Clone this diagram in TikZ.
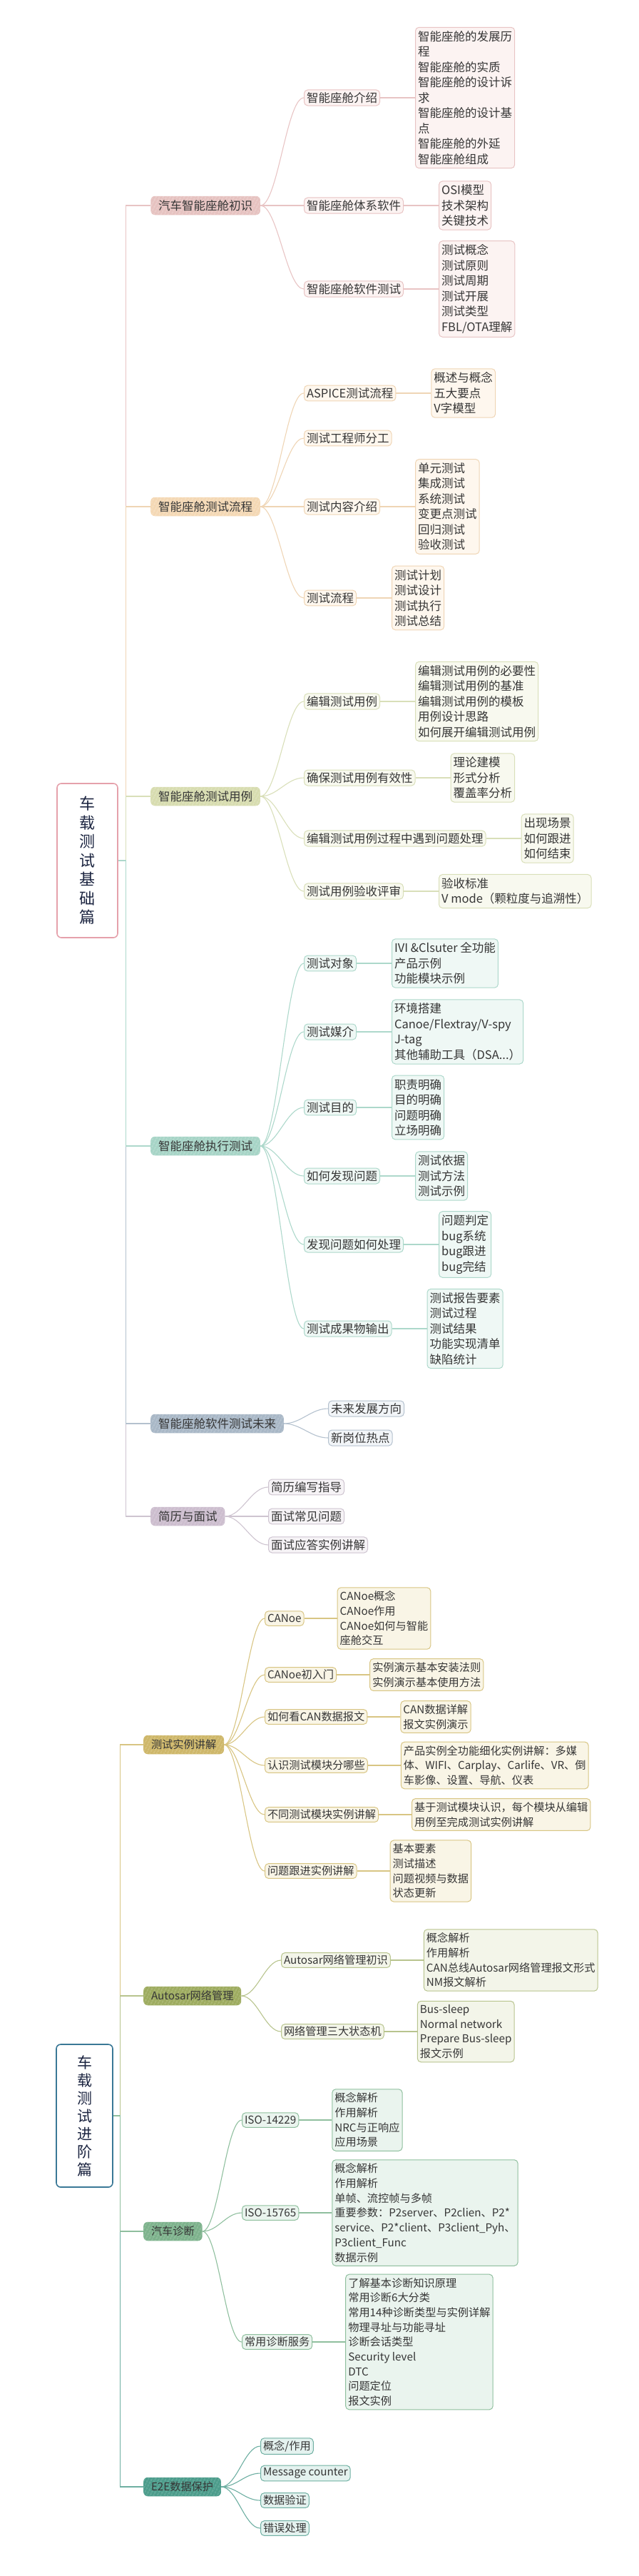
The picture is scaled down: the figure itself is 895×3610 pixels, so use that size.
\documentclass[tikz,border=0pt]{standalone}
\usepackage{fontspec}
\setmainfont{Noto Sans CJK SC}
\usetikzlibrary{positioning,patterns.meta}
\definecolor{ink}{HTML}{363636}
\definecolor{navy}{HTML}{1C2541}
\definecolor{rtA}{HTML}{E5A1AB}
\definecolor{rtB}{HTML}{3A7896}
\definecolor{pkD}{HTML}{E6C2C0}\definecolor{pkH}{HTML}{F3E0DF}\definecolor{pkL}{HTML}{FCF3F2}\definecolor{pkE}{HTML}{E8C4C4}
\definecolor{tnD}{HTML}{F4D8B4}\definecolor{tnH}{HTML}{FAEBD7}\definecolor{tnL}{HTML}{FEF7EE}\definecolor{tnE}{HTML}{EFD5B5}
\definecolor{sgD}{HTML}{D7DCAF}\definecolor{sgH}{HTML}{E9ECD3}\definecolor{sgL}{HTML}{F8F9EF}\definecolor{sgE}{HTML}{D9DFB9}
\definecolor{tlD}{HTML}{A6D4C6}\definecolor{tlH}{HTML}{CDE7DF}\definecolor{tlL}{HTML}{EFF8F5}\definecolor{tlE}{HTML}{ADD8CB}
\definecolor{slD}{HTML}{A8B7C6}\definecolor{slH}{HTML}{CBD5DF}\definecolor{slL}{HTML}{F2F5F8}\definecolor{slE}{HTML}{B4C1CE}
\definecolor{mvD}{HTML}{CCBDCE}\definecolor{mvH}{HTML}{E2D9E3}\definecolor{mvL}{HTML}{F6F3F6}\definecolor{mvE}{HTML}{CEC4D0}
\definecolor{gdD}{HTML}{CEB76A}\definecolor{gdH}{HTML}{E3D49F}\definecolor{gdL}{HTML}{F9F5E6}\definecolor{gdE}{HTML}{D8C583}
\definecolor{olD}{HTML}{9DAB5F}\definecolor{olH}{HTML}{C2CC93}\definecolor{olL}{HTML}{F3F5E9}\definecolor{olE}{HTML}{B8C48E}
\definecolor{gnD}{HTML}{7DB28C}\definecolor{gnH}{HTML}{A9CDB3}\definecolor{gnL}{HTML}{EAF4EE}\definecolor{gnE}{HTML}{8FBF9E}
\definecolor{dtD}{HTML}{4C9C8B}\definecolor{dtH}{HTML}{7FBDB0}\definecolor{dtL}{HTML}{E4F2EF}\definecolor{dtE}{HTML}{6EAFA2}

\begin{document}
\begin{tikzpicture}[
  x=1pt,y=-1pt,
  node distance=49pt,
  every node/.style={text=ink},
  root/.style={draw=#1,line width=1.6pt,fill=white,rounded corners=6pt,align=center,text=navy},
  br/.style={rounded corners=6pt,preaction={fill=#1D},pattern={Lines[angle=62,distance=4pt,line width=.7pt]},pattern color=#1H,anchor=west,inner xsep=1.08em,minimum height=2.65em},
  sub/.style={draw=#1E,fill=#1L,line width=1pt,rounded corners=5pt,anchor=west,inner xsep=.35em,minimum height=2.05em},
  leaf/.style={draw=#1E,fill=#1L,line width=1pt,rounded corners=5pt,align=left,inner xsep=.36em,inner ysep=.5em},
  lk/.style={line width=1.1pt}
]
\useasboundingbox (0,0) rectangle (895,3610);

\begin{scope}[font=\fontsize{16.5pt}{21.5pt}\selectfont]
\node[root=rtA,font=\fontsize{22pt}{26.5pt}\selectfont,minimum width=85pt,minimum height=216pt] (r1) at (122.5,1206) {车\\载\\测\\试\\基\\础\\篇};

\node[br=pk] (b1) at (211,288) {汽车智能座舱初识};
\node[sub=pk] (c11) at (426,137) {智能座舱介绍};
\node[sub=pk] (c12) at (426,288) {智能座舱体系软件};
\node[sub=pk] (c13) at (426,405) {智能座舱软件测试};
\node[leaf=pk,right=of c11] (l11) {智能座舱的发展历\\程\\智能座舱的实质\\智能座舱的设计诉\\求\\智能座舱的设计基\\点\\智能座舱的外延\\智能座舱组成};
\node[leaf=pk,right=of c12] (l12) {OSI模型\\技术架构\\关键技术};
\node[leaf=pk,right=of c13] (l13) {测试概念\\测试原则\\测试周期\\测试开展\\测试类型\\FBL/OTA理解};

\node[br=tn] (b2) at (211,710) {智能座舱测试流程};
\node[sub=tn] (c21) at (426,551) {ASPICE测试流程};
\node[sub=tn] (c22) at (426,614) {测试工程师分工};
\node[sub=tn] (c23) at (426,710) {测试内容介绍};
\node[sub=tn] (c24) at (426,838) {测试流程};
\node[leaf=tn,right=of c21] (l21) {概述与概念\\五大要点\\V字模型};
\node[leaf=tn,right=of c23] (l23) {单元测试\\集成测试\\系统测试\\变更点测试\\回归测试\\验收测试};
\node[leaf=tn,right=of c24] (l24) {测试计划\\测试设计\\测试执行\\测试总结};

\node[br=sg] (b3) at (211,1116) {智能座舱测试用例};
\node[sub=sg] (c31) at (426,983) {编辑测试用例};
\node[sub=sg] (c32) at (426,1090) {确保测试用例有效性};
\node[sub=sg] (c33) at (426,1175) {编辑测试用例过程中遇到问题处理};
\node[sub=sg] (c34) at (426,1249) {测试用例验收评审};
\node[leaf=sg,right=of c31] (l31) {编辑测试用例的必要性\\编辑测试用例的基准\\编辑测试用例的模板\\用例设计思路\\如何展开编辑测试用例};
\node[leaf=sg,right=of c32] (l32) {理论建模\\形式分析\\覆盖率分析};
\node[leaf=sg,right=of c33] (l33) {出现场景\\如何跟进\\如何结束};
\node[leaf=sg,right=of c34] (l34) {验收标准\\V mode（颗粒度与追溯性）};

\node[br=tl] (b4) at (211,1606) {智能座舱执行测试};
\node[sub=tl] (c41) at (426,1350) {测试对象};
\node[sub=tl] (c42) at (426,1446) {测试媒介};
\node[sub=tl] (c43) at (426,1552) {测试目的};
\node[sub=tl] (c44) at (426,1648) {如何发现问题};
\node[sub=tl] (c45) at (426,1744) {发现问题如何处理};
\node[sub=tl] (c46) at (426,1862) {测试成果物输出};
\node[leaf=tl,right=of c41] (l41) {IVI \&Clsuter 全功能\\产品示例\\功能模块示例};
\node[leaf=tl,right=of c42] (l42) {环境搭建\\Canoe/Flextray/V-spy\\J-tag\\其他辅助工具（DSA...）};
\node[leaf=tl,right=of c43] (l43) {职责明确\\目的明确\\问题明确\\立场明确};
\node[leaf=tl,right=of c44] (l44) {测试依据\\测试方法\\测试示例};
\node[leaf=tl,right=of c45] (l45) {问题判定\\bug系统\\bug跟进\\bug完结};
\node[leaf=tl,right=of c46] (l46) {测试报告要素\\测试过程\\测试结果\\功能实现清单\\缺陷统计};

\node[br=sl] (b5) at (211,1995) {智能座舱软件测试未来};
\node[sub=sl] (c51) at (460,1974) {未来发展方向};
\node[sub=sl] (c52) at (460,2015) {新岗位热点};

\node[br=mv] (b6) at (211,2125) {简历与面试};
\node[sub=mv] (c61) at (376,2084) {简历编写指导};
\node[sub=mv] (c62) at (376,2125) {面试常见问题};
\node[sub=mv] (c63) at (376,2165) {面试应答实例讲解};

\foreach \b/\k in {b1/pkE,b2/tnE,b3/sgE,b6/mvE,b5/slE,b4/tlE}
  \draw[lk,draw=\k] (r1.east) -- ++(11,0) |- (\b.west);
\foreach \b/\c/\k in {b1/c11/pkE,b1/c12/pkE,b1/c13/pkE,b2/c21/tnE,b2/c22/tnE,b2/c23/tnE,b2/c24/tnE,
    b3/c31/sgE,b3/c32/sgE,b3/c33/sgE,b3/c34/sgE,b4/c41/tlE,b4/c42/tlE,b4/c43/tlE,b4/c44/tlE,b4/c45/tlE,b4/c46/tlE,
    b5/c51/slE,b5/c52/slE,b6/c61/mvE,b6/c62/mvE,b6/c63/mvE}
  \draw[lk,draw=\k] (\b.east) .. controls +(24,0) and +(-24,0) .. (\c.west);
\foreach \c/\l/\k in {c11/l11/pkE,c12/l12/pkE,c13/l13/pkE,c21/l21/tnE,c23/l23/tnE,c24/l24/tnE,
    c31/l31/sgE,c32/l32/sgE,c33/l33/sgE,c34/l34/sgE,c41/l41/tlE,c42/l42/tlE,c43/l43/tlE,c44/l44/tlE,c45/l45/tlE,c46/l46/tlE}
  \draw[lk,draw=\k] (\c.east) -- (\l.west |- \c.east);
\end{scope}

\begin{scope}[font=\fontsize{15.2pt}{20.7pt}\selectfont,node distance=46pt]
\node[root=rtB,font=\fontsize{21pt}{25pt}\selectfont,minimum width=79pt,minimum height=200pt] (r2) at (118.5,2965) {车\\载\\测\\试\\进\\阶\\篇};

\node[br=gd] (bA) at (201,2445) {测试实例讲解};
\node[sub=gd] (cA1) at (371,2268) {CANoe};
\node[sub=gd] (cA2) at (371,2347) {CANoe初入门};
\node[sub=gd] (cA3) at (371,2406) {如何看CAN数据报文};
\node[sub=gd] (cA4) at (371,2474) {认识测试模块分哪些};
\node[sub=gd] (cA5) at (371,2543) {不同测试模块实例讲解};
\node[sub=gd] (cA6) at (371,2622) {问题跟进实例讲解};
\node[leaf=gd,right=of cA1] (lA1) {CANoe概念\\CANoe作用\\CANoe如何与智能\\座舱交互};
\node[leaf=gd,right=of cA2] (lA2) {实例演示基本安装法则\\实例演示基本使用方法};
\node[leaf=gd,right=of cA3] (lA3) {CAN数据详解\\报文实例演示};
\node[leaf=gd,right=of cA4] (lA4) {产品实例全功能细化实例讲解：多媒\\体、WIFI、Carplay、Carlife、VR、倒\\车影像、设置、导航、仪表};
\node[leaf=gd,right=of cA5] (lA5) {基于测试模块认识，每个模块从编辑\\用例至完成测试实例讲解};
\node[leaf=gd,right=of cA6] (lA6) {基本要素\\测试描述\\问题视频与数据\\状态更新};

\node[br=ol] (bB) at (201,2797) {Autosar网络管理};
\node[sub=ol] (cB1) at (394,2747) {Autosar网络管理初识};
\node[sub=ol] (cB2) at (394,2847) {网络管理三大状态机};
\node[leaf=ol,right=of cB1] (lB1) {概念解析\\作用解析\\CAN总线Autosar网络管理报文形式\\NM报文解析};
\node[leaf=ol,right=of cB2] (lB2) {Bus-sleep\\Normal network\\Prepare Bus-sleep\\报文示例};

\node[br=gn] (bC) at (201,3127) {汽车诊断};
\node[sub=gn] (cC1) at (339,2971) {ISO-14229};
\node[sub=gn] (cC2) at (339,3101) {ISO-15765};
\node[sub=gn] (cC3) at (339,3282) {常用诊断服务};
\node[leaf=gn,right=of cC1] (lC1) {概念解析\\作用解析\\NRC与正响应\\应用场景};
\node[leaf=gn,right=of cC2] (lC2) {概念解析\\作用解析\\单帧、流控帧与多帧\\重要参数：P2server、P2clien、P2*\\service、P2*client、P3client\_Pyh、\\P3client\_Func\\数据示例};
\node[leaf=gn,right=of cC3] (lC3) {了解基本诊断知识原理\\常用诊断6大分类\\常用14种诊断类型与实例详解\\物理寻址与功能寻址\\诊断会话类型\\Security level\\DTC\\问题定位\\报文实例};

\node[br=dt] (bD) at (201,3485) {E2E数据保护};
\node[sub=dt] (cD1) at (365,3428) {概念/作用};
\node[sub=dt] (cD2) at (365,3466) {Message counter};
\node[sub=dt] (cD3) at (365,3504) {数据验证};
\node[sub=dt] (cD4) at (365,3543) {错误处理};

\foreach \b/\k in {bA/gdE,bB/olE,bD/dtE,bC/gnE}
  \draw[lk,draw=\k] (r2.east) -- ++(10,0) |- (\b.west);
\foreach \b/\c/\k in {bA/cA1/gdE,bA/cA2/gdE,bA/cA3/gdE,bA/cA4/gdE,bA/cA5/gdE,bA/cA6/gdE,bB/cB1/olE,bB/cB2/olE,
    bC/cC1/gnE,bC/cC2/gnE,bC/cC3/gnE,bD/cD1/dtE,bD/cD2/dtE,bD/cD3/dtE,bD/cD4/dtE}
  \draw[lk,draw=\k] (\b.east) .. controls +(22,0) and +(-22,0) .. (\c.west);
\foreach \c/\l/\k in {cA1/lA1/gdE,cA2/lA2/gdE,cA3/lA3/gdE,cA4/lA4/gdE,cA5/lA5/gdE,cA6/lA6/gdE,
    cB1/lB1/olE,cB2/lB2/olE,cC1/lC1/gnE,cC2/lC2/gnE,cC3/lC3/gnE}
  \draw[lk,draw=\k] (\c.east) -- (\l.west |- \c.east);
\end{scope}
\end{tikzpicture}
\end{document}
